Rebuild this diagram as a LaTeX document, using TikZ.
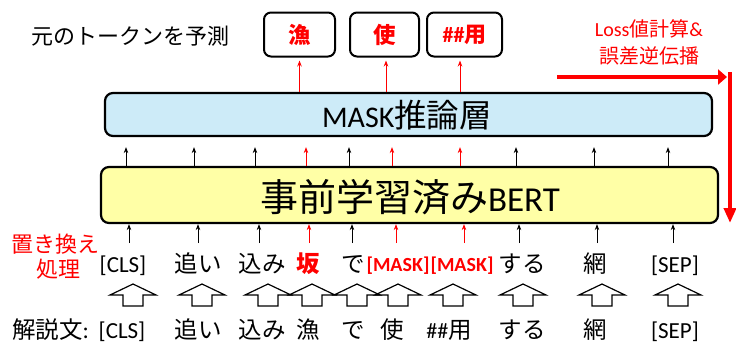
\documentclass[tikz,border=0pt]{standalone}
\usepackage{fontspec}
\setmainfont{Carlito}
\newfontfamily\jp{Noto Sans CJK JP}
\usetikzlibrary{arrows.meta}
\definecolor{maskblue}{HTML}{CDEBF8}
\definecolor{bertyellow}{HTML}{FFFFA6}
\definecolor{alertred}{HTML}{FF0000}
\tikzset{
  layerbox/.style={draw=black, line width=2.2pt, rounded corners=8pt, inner sep=0pt},
  outbox/.style={draw=black, line width=2pt, rounded corners=7pt, minimum height=44pt, inner sep=0pt, text=alertred, font=\bfseries},
  tok/.style={anchor=base, inner sep=0pt, font=\fontsize{23}{26}\selectfont},
  jtok/.style={tok, font=\jp\fontsize{23.5}{26}\selectfont},
  redtok/.style={tok, text=alertred, font=\jp\bfseries\fontsize{23.5}{26}\selectfont},
  masktok/.style={tok, text=alertred, font=\fontsize{20}{24}\selectfont\bfseries},
  thinarrow/.style={line width=0.9pt, -{Stealth[length=6pt,width=4.5pt]}},
  redarrow/.style={thinarrow, draw=alertred},
  blockarrow/.style={draw=black, line width=1.2pt, line join=miter},
  bigred/.style={draw=alertred, line width=4pt},
}
\begin{document}
\begin{tikzpicture}[x=1pt,y=-1pt]
\useasboundingbox (0,0) rectangle (736,346);

% title
\node[anchor=center, inner sep=0pt, font=\jp\fontsize{22}{24}\selectfont] (title) at (130,36) {元のトークンを予測};

% output boxes
\node[outbox, minimum width=71pt, font=\jp\bfseries\fontsize{22.5}{24}\selectfont] (o1) at (299.5,34.5) {漁};
\node[outbox, minimum width=69pt, font=\jp\bfseries\fontsize{22.5}{24}\selectfont] (o2) at (384.5,34.5) {使};
\node[outbox, minimum width=75pt, font=\bfseries\fontsize{22}{24}\selectfont] (o3) at (464.5,34.5) {\#\#{\jp 用}};

% loss text
\node[anchor=center, inner sep=0pt, text=alertred, align=center, font=\fontsize{20}{27}\selectfont] (loss) at (649,42) {Loss{\jp 値計算}\&\\{\jp 誤差逆伝播}};

% layers
\node[layerbox, fill=maskblue, minimum width=607pt, minimum height=43pt] (mask) at (408.5,114.5) {};
\node[anchor=base, inner sep=0pt] (masktxt) at (407,127) {\fontsize{30}{32}\selectfont MASK{\jp\fontsize{32.5}{34}\selectfont 推論層}};
\node[layerbox, fill=bertyellow, minimum width=617pt, minimum height=56pt] (bert) at (409.5,195) {};
\node[anchor=base, inner sep=0pt] (berttxt) at (410,211) {{\jp\fontsize{38}{40}\selectfont 事前学習済み}\fontsize{35}{38}\selectfont BERT};

% big red arrow
\coordinate (lossL) at (557,77);
\coordinate (lossR) at (727,77);
\coordinate (lossT) at (730,72);
\coordinate (lossB) at (730,223);
\draw[bigred, -{Triangle[length=9pt,width=15pt]}] (lossL) -- (lossR);
\draw[bigred, -{Triangle[length=15pt,width=12pt]}] (lossT) -- (lossB);

% replacement label
\node[anchor=base, inner sep=0pt, text=alertred, font=\jp\fontsize{22}{24}\selectfont] (rep1) at (56,252) {置き換え};
\node[anchor=base, inner sep=0pt, text=alertred, font=\jp\fontsize{22}{24}\selectfont] (rep2) at (58,277) {処理};

% row 1 tokens
\node[tok] (t1) at (123,272) {[CLS]};
\node[jtok] (t2) at (198,272) {追い};
\node[jtok] (t3) at (262,272) {込み};
\node[redtok] (t4) at (308,272) {坂};
\node[jtok] (t5) at (353,272) {で};
\node[masktok] (t6) at (398,271) {[MASK]};
\node[masktok] (t7) at (462,271) {[MASK]};
\node[jtok] (t8) at (522,272) {する};
\node[jtok] (t9) at (595,272) {網};
\node[tok] (t10) at (675,272) {[SEP]};

% row 2 tokens
\node[anchor=base west, inner sep=0pt, font=\jp\fontsize{23.5}{26}\selectfont] (label) at (12,338) {解説文{\rmfamily :}};
\node[tok] (s1) at (122,338) {[CLS]};
\node[jtok] (s2) at (198,338) {追い};
\node[jtok] (s3) at (262,338) {込み};
\node[jtok] (s4) at (308,338) {漁};
\node[jtok] (s5) at (353,338) {で};
\node[jtok] (s6) at (392,338) {使};
\node[tok, font=\fontsize{22}{26}\selectfont] (s7) at (449,338) {\#\#{\jp\fontsize{23.5}{26}\selectfont 用}};
\node[jtok] (s8) at (522,338) {する};
\node[jtok] (s9) at (595,338) {網};
\node[tok] (s10) at (675,338) {[SEP]};

% column coordinates: lower arrows (l), upper arrows (u), block arrows (b)
\foreach \i/\lx/\ux/\bx in {1/129/126/133, 2/198/194/202, 3/259/255/268, 4/309/306/312, 5/352/349/357, 6/396/392/398, 7/464/460/453, 8/519/516/523, 9/597/594/602, 10/673/668/678}{
  \coordinate (l\i) at (\lx,243);
  \coordinate (u\i) at (\ux,150);
  \coordinate (b\i) at (\bx,284);
}

% lower arrows token -> BERT
\foreach \i in {1,2,3,5,8,9,10}{
  \draw[thinarrow] (l\i) -- (l\i |- bert.south);
}
\foreach \i in {4,6,7}{
  \draw[redarrow] (l\i) -- (l\i |- bert.south);
}
% upper arrows BERT -> MASK
\foreach \i in {1,2,3,5,8,9,10}{
  \draw[thinarrow, shorten >=10pt] (u\i |- bert.north) -- (u\i |- mask.south);
}
\foreach \i in {4,6,7}{
  \draw[redarrow, shorten >=10pt] (u\i |- bert.north) -- (u\i |- mask.south);
}
% top red arrows MASK -> outputs
\draw[redarrow, shorten >=3pt] (o1.south |- mask.north) -- (o1.south);
\draw[redarrow, shorten >=3pt] ([xshift=1.5pt]o2.south |- mask.north) -- ([xshift=1.5pt]o2.south);
\draw[redarrow, shorten >=3pt] ([xshift=-4.5pt]o3.south |- mask.north) -- ([xshift=-4.5pt]o3.south);

% block arrows (source token -> replaced token)
\foreach \i in {1,...,10}{
  \draw[blockarrow] (b\i) -- ++(23,11) -- ++(-13,0) -- ++(0,11) -- ++(-20,0) -- ++(0,-11) -- ++(-13,0) -- cycle;
}
\end{tikzpicture}
\end{document}
